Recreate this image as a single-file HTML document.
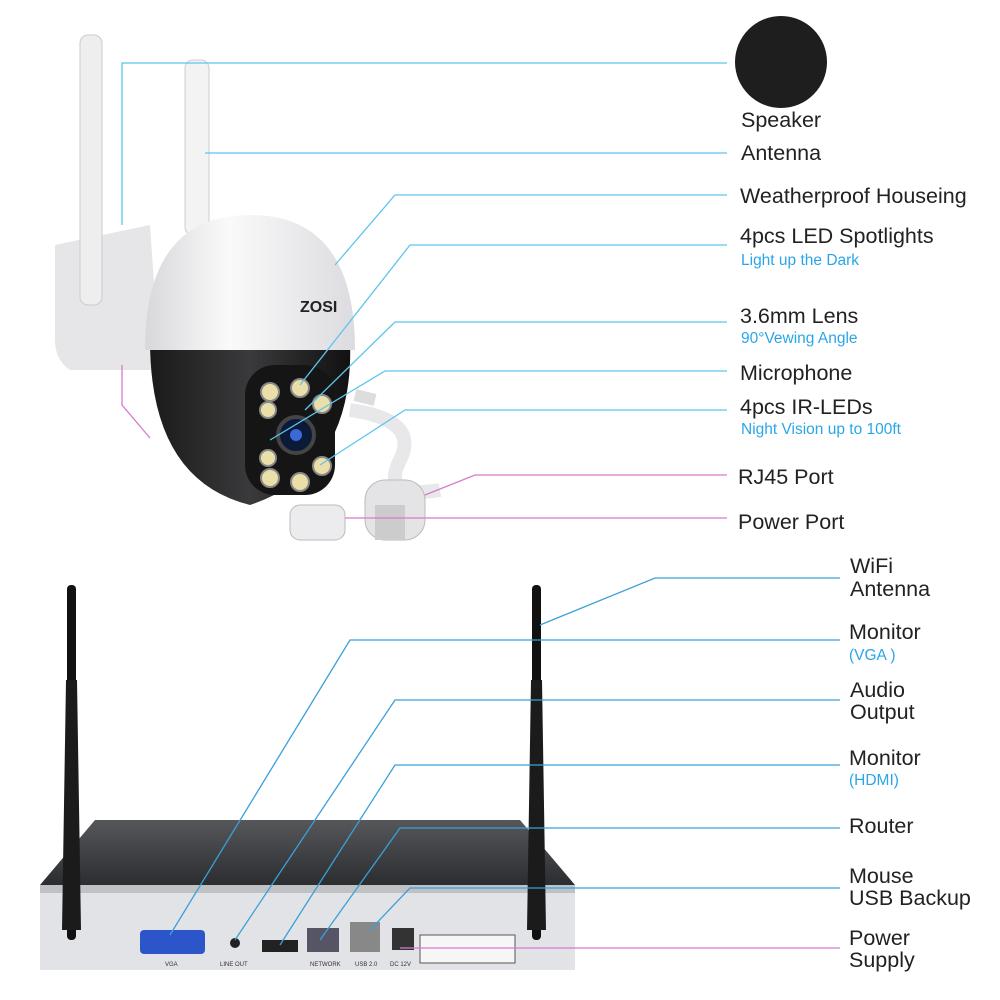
<!DOCTYPE html>
<html><head><meta charset="utf-8"><style>
html,body{margin:0;padding:0;background:#fff}
svg{display:block}
text{font-family:"Liberation Sans",sans-serif}
.l{font-size:21.5px;fill:#222}
.s{font-size:15.5px;fill:#2aa6e8}
</style></head><body>
<svg width="1000" height="1000" viewBox="0 0 1000 1000">
<defs>
<linearGradient id="dome" x1="0" x2="1"><stop offset="0" stop-color="#d8d8dc"/><stop offset=".4" stop-color="#fafafa"/><stop offset="1" stop-color="#dcdce0"/></linearGradient>
<linearGradient id="blk" x1="0" x2="1"><stop offset="0" stop-color="#1a1a1a"/><stop offset=".5" stop-color="#3a3a3c"/><stop offset="1" stop-color="#111"/></linearGradient>
<linearGradient id="top" x1="0" y1="0" x2="0" y2="1"><stop offset="0" stop-color="#55575a"/><stop offset="1" stop-color="#2c2d30"/></linearGradient>
</defs>
<path d="M55 245 L150 225 L160 370 L70 370 Q55 360 55 340 Z" fill="#e6e6e8"/>
<rect x="80" y="35" width="22" height="270" rx="8" fill="#eeeeef" stroke="#ccc"/>
<rect x="185" y="60" width="24" height="175" rx="8" fill="#f3f3f4" stroke="#ccc"/>
<path d="M150 340 L350 340 Q355 470 250 505 Q150 480 150 340 Z" fill="url(#blk)"/>
<rect x="245" y="365" width="90" height="130" rx="30" fill="#151515"/>
<path d="M145 350 Q145 215 250 215 Q355 215 355 350 Z" fill="url(#dome)"/>
<text x="300" y="312" font-size="16" font-weight="bold" fill="#222">ZOSI</text>
<g fill="#eadfa8" stroke="#888" stroke-width="2">
<circle cx="270" cy="392" r="9"/><circle cx="300" cy="388" r="9"/><circle cx="322" cy="404" r="9"/>
<circle cx="270" cy="478" r="9"/><circle cx="300" cy="482" r="9"/><circle cx="322" cy="466" r="9"/>
<circle cx="268" cy="410" r="8"/><circle cx="268" cy="458" r="8"/>
</g>
<circle cx="296" cy="435" r="18" fill="#0c1a3a" stroke="#444" stroke-width="4"/>
<circle cx="296" cy="435" r="6" fill="#3a6ad8"/>
<path d="M350 410 Q420 420 400 460 Q380 500 440 490" fill="none" stroke="#e8e8ea" stroke-width="14"/>
<path d="M355 395 L375 400" stroke="#ddd" stroke-width="12"/>
<rect x="365" y="480" width="60" height="60" rx="20" fill="#e4e4e6" stroke="#bbb"/>
<rect x="375" y="505" width="30" height="35" fill="#ccc"/>
<rect x="290" y="505" width="55" height="35" rx="10" fill="#ececee" stroke="#bbb"/>
<circle cx="781" cy="62" r="46" fill="#1e1e1e"/>
<g fill="none" stroke="#5fc4ec" stroke-width="1.3">
<polyline points="727,63 122,63 122,225"/>
<polyline points="727,153 205,153"/>
<polyline points="727,195 395,195 335,265"/>
<polyline points="727,245 410,245 300,385"/>
<polyline points="727,322 395,322 305,410"/>
<polyline points="727,371 385,371 270,440"/>
<polyline points="727,410 405,410 320,465"/>
</g>
<g fill="none" stroke="#d87ad0" stroke-width="1.3">
<polyline points="122,365 122,405 150,438"/>
<polyline points="727,475 475,475 425,495"/>
<polyline points="727,518 345,518"/>
</g>
<text class="l" x="741" y="127">Speaker</text>
<text class="l" x="741" y="160">Antenna</text>
<text class="l" x="740" y="203">Weatherproof Houseing</text>
<text class="l" x="740" y="243">4pcs LED Spotlights</text>
<text class="s" x="741" y="265">Light up the Dark</text>
<text class="l" x="740" y="323">3.6mm Lens</text>
<text class="s" x="741" y="343">90°Vewing Angle</text>
<text class="l" x="740" y="380">Microphone</text>
<text class="l" x="740" y="414">4pcs IR-LEDs</text>
<text class="s" x="741" y="434">Night Vision up to 100ft</text>
<text class="l" x="738" y="484">RJ45 Port</text>
<text class="l" x="738" y="529">Power Port</text>
<path d="M95 820 L520 820 L575 885 L40 885 Z" fill="url(#top)"/>
<rect x="40" y="885" width="535" height="85" fill="#e2e3e6"/>
<rect x="40" y="885" width="535" height="8" fill="#bfc1c5"/>
<rect x="140" y="930" width="65" height="24" rx="4" fill="#2b55c8"/>
<circle cx="235" cy="943" r="5" fill="#222"/>
<rect x="262" y="940" width="36" height="12" fill="#222"/>
<rect x="307" y="928" width="32" height="24" fill="#556"/>
<rect x="350" y="922" width="30" height="30" fill="#888"/>
<rect x="392" y="928" width="22" height="22" fill="#333"/>
<rect x="420" y="935" width="95" height="28" fill="#f6f6f6" stroke="#555"/>
<g font-size="6" fill="#333"><text x="165" y="966">VGA</text><text x="220" y="966">LINE OUT</text><text x="310" y="966">NETWORK</text><text x="355" y="966">USB 2.0</text><text x="390" y="966">DC 12V</text></g>
<rect x="67" y="585" width="9" height="355" rx="4" fill="#111"/>
<path d="M66 680 L77 680 L81 930 L62 930 Z" fill="#1b1b1b"/>
<rect x="532" y="585" width="9" height="355" rx="4" fill="#111"/>
<path d="M531 680 L542 680 L546 930 L527 930 Z" fill="#1b1b1b"/>
<g fill="none" stroke="#3aa0d8" stroke-width="1.3">
<polyline points="840,578 655,578 540,625"/>
<polyline points="840,640 350,640 170,935"/>
<polyline points="840,700 395,700 235,940"/>
<polyline points="840,765 395,765 280,945"/>
<polyline points="840,828 400,828 320,940"/>
<polyline points="840,888 410,888 370,930"/>
</g>
<polyline points="840,948 400,948" fill="none" stroke="#d87ad0" stroke-width="1.3"/>
<text class="l" x="850" y="573">WiFi</text>
<text class="l" x="850" y="596">Antenna</text>
<text class="l" x="849" y="639">Monitor</text>
<text class="s" x="849" y="660">(VGA )</text>
<text class="l" x="850" y="697">Audio</text>
<text class="l" x="850" y="719">Output</text>
<text class="l" x="849" y="765">Monitor</text>
<text class="s" x="849" y="785">(HDMI)</text>
<text class="l" x="849" y="833">Router</text>
<text class="l" x="849" y="883">Mouse</text>
<text class="l" x="849" y="905">USB Backup</text>
<text class="l" x="849" y="945">Power</text>
<text class="l" x="849" y="967">Supply</text>
</svg>
</body></html>
